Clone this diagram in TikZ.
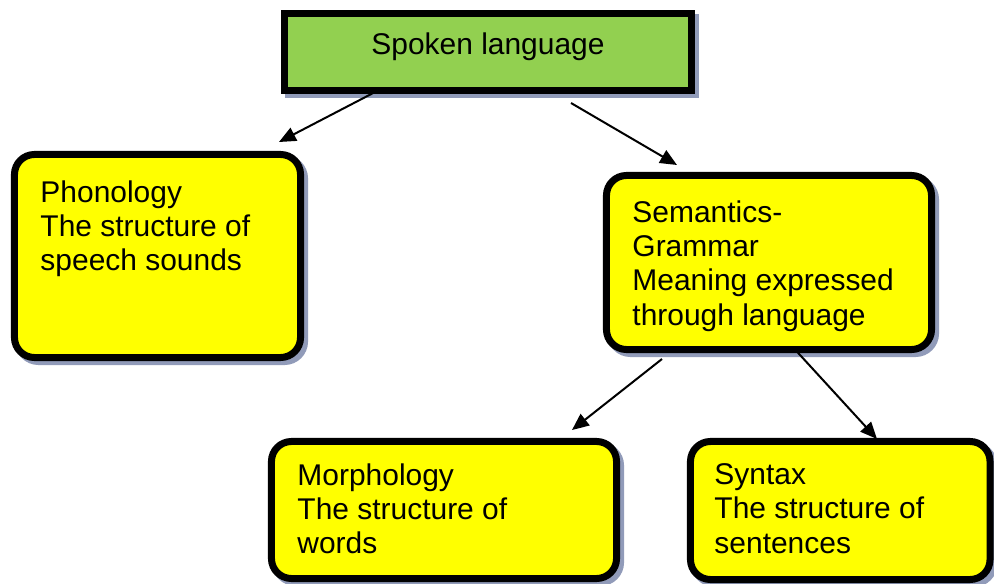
\documentclass[tikz,border=0pt]{standalone}
\usepackage{fontspec}
\setmainfont{Liberation Sans}
\usetikzlibrary{arrows.meta}
\usetikzlibrary{shadows}

\definecolor{headgreen}{RGB}{146,208,80}
\definecolor{boxyellow}{RGB}{255,255,0}
\definecolor{shadowblue}{RGB}{145,155,185}

\newcommand{\boxtext}[3]{\parbox[c][#2][t]{#1}{\raggedright #3}}

\tikzset{
  box/.style={draw=black, line width=0.175cm, inner sep=0pt, outer sep=0pt,
    drop shadow={shadow xshift=0.1cm, shadow yshift=-0.1cm, opacity=1,
      fill=shadowblue, draw=shadowblue, line width=0.175cm}},
  headbox/.style={box, fill=headgreen},
  levelbox/.style={box, fill=boxyellow, rounded corners=0.5cm},
  link/.style={line width=0.05cm, -{Triangle[length=0.42cm,width=0.36cm]}}
}

\begin{document}
\begin{tikzpicture}[x=0.025cm, y=-0.025cm, font=\fontsize{21.3}{24.4}\selectfont]
\useasboundingbox (0,0) rectangle (994,584);

% boxes
\node[headbox, minimum width=10.175cm, minimum height=1.925cm] (spoken) at (488,52)
  {\parbox[c][0.975cm][t]{8.875cm}{\centering Spoken language}};

\node[levelbox, minimum width=7.15cm, minimum height=5.075cm] (phon) at (157.5,256)
  {\boxtext{5.85cm}{3.775cm}{Phonology\\The structure of\\speech sounds}};

\node[levelbox, minimum width=8.125cm, minimum height=4.35cm] (sem) at (769,262.5)
  {\boxtext{6.825cm}{3.1cm}{Semantics-\\Grammar\\Meaning expressed\\through language}};

\node[levelbox, minimum width=8.625cm, minimum height=3.425cm] (morph) at (444,510)
  {\boxtext{7.325cm}{2.325cm}{Morphology\\The structure of\\words}};

\node[levelbox, minimum width=7.4875cm, minimum height=3.45cm] (syn) at (840.25,510.5)
  {\boxtext{6.2875cm}{2.35cm}{Syntax\\The structure of\\sentences}};

% arrow tips
\coordinate (phon tip) at (279,142);
\coordinate (sem tip) at (677,165);
\coordinate (morph tip) at (572,430);
\coordinate (syn tip) at (877,439);

% arrows
\draw[link] ([xshift=-2.75cm]spoken.south) -- (phon tip);
\draw[link] ([xshift=2.075cm,yshift=-0.3125cm]spoken.south) -- (sem tip);
\draw[link] ([xshift=-2.675cm,yshift=-0.2375cm]sem.south) -- (morph tip);
\draw[link] ([xshift=0.65cm]sem.south) -- (syn tip);
\end{tikzpicture}
\end{document}
